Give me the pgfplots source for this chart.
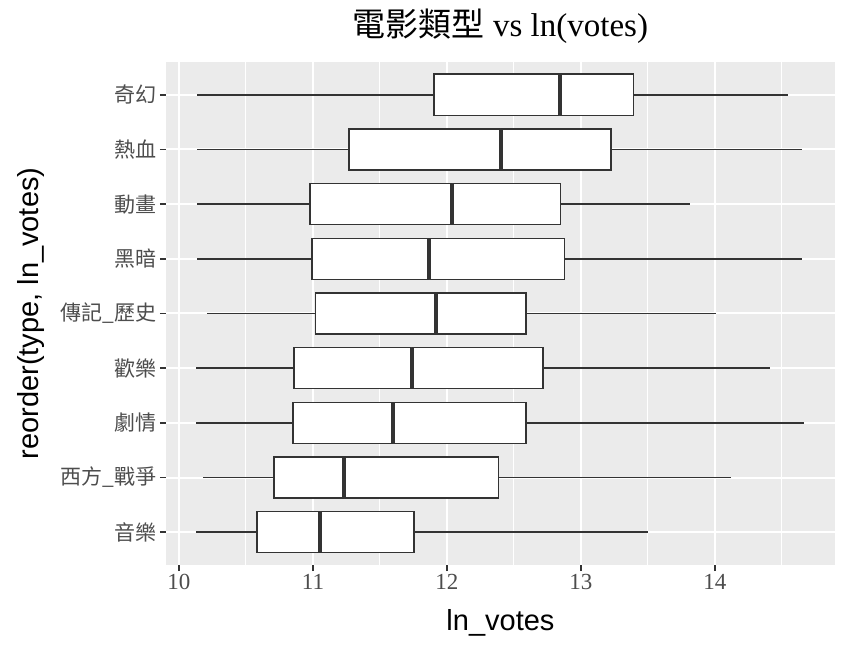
\documentclass[border=0pt]{standalone}
\usepackage{pgfplots}
\pgfplotsset{compat=1.18}
\usepgfplotslibrary{statistics}
\usepackage{fontspec}
\setmainfont{Liberation Serif}
\setsansfont{Liberation Sans}
\newfontfamily\cjk{Noto Sans CJK TC}
\definecolor{panelbg}{HTML}{EBEBEB}
\definecolor{boxline}{HTML}{333333}
\definecolor{ticktext}{HTML}{4D4D4D}

\begin{document}
\begin{tikzpicture}
\path[use as bounding box] (0,0) rectangle (850pt,650pt);
\begin{axis}[
    at={(166pt,85pt)}, anchor=south west,
    scale only axis,
    width=669pt, height=503pt,
    xmin=9.903, xmax=14.896,
    ymin=0.4, ymax=9.6,
    axis background/.style={fill=panelbg},
    axis line style={draw=none},
    xtick={10,11,12,13,14},
    minor xtick={10.5,11.5,12.5,13.5,14.5},
    ytick={1,2,3,4,5,6,7,8,9},
    yticklabels={音樂, 西方\_戰爭, 劇情, 歡樂, 傳記\_歷史, 黑暗, 動畫, 熱血, 奇幻},
    grid=both,
    major grid style={white, line width=2pt},
    minor grid style={white, line width=1pt},
    tick pos=left,
    tick align=outside,
    major tick length=6pt,
    minor tick length=0pt,
    major tick style={boxline, line width=1.5pt},
    /pgf/number format/assume math mode=true,
    xticklabel style={font=\fontsize{23}{26}\selectfont, text=ticktext},
    yticklabel style={font=\cjk\fontsize{21}{24}\selectfont, text=ticktext},
    xlabel={ln\_votes},
    xlabel style={font=\sffamily\fontsize{29}{32}\selectfont, at={(axis description cs:0.5,-0.1312)}, anchor=base},
    ylabel={reorder(type, ln\_votes)},
    ylabel style={font=\sffamily\fontsize{29}{32}\selectfont, at={(axis description cs:-0.1913,0.5)}, anchor=base},
    title={{\cjk 電影類型} vs ln(votes)},
    title style={font=\fontsize{33}{36}\selectfont, at={(axis description cs:0.5,1.0378)}, anchor=base},
    boxplot/draw direction=x,
    boxplot/box extend=0.75,
    boxplot/whisker extend=0,
    boxplot/every median/.style={line width=4pt},
    gbox/.style={solid, draw=boxline, fill=white, line width=1.6pt, mark=none},
]
% 奇幻
\addplot[gbox, boxplot prepared={draw position=9, lower whisker=10.136, lower quartile=11.904, median=12.84, upper quartile=13.391, upper whisker=14.544}] coordinates {};
% 熱血
\addplot[gbox, boxplot prepared={draw position=8, lower whisker=10.136, lower quartile=11.27, median=12.40, upper quartile=13.226, upper whisker=14.648}] coordinates {};
% 動畫
\addplot[gbox, boxplot prepared={draw position=7, lower whisker=10.136, lower quartile=10.978, median=12.04, upper quartile=12.847, upper whisker=13.815}] coordinates {};
% 黑暗
\addplot[gbox, boxplot prepared={draw position=6, lower whisker=10.136, lower quartile=10.991, median=11.869, upper quartile=12.876, upper whisker=14.648}] coordinates {};
% 傳記_歷史
\addplot[gbox, boxplot prepared={draw position=5, lower whisker=10.207, lower quartile=11.02, median=11.92, upper quartile=12.591, upper whisker=14.006}] coordinates {};
% 歡樂
\addplot[gbox, boxplot prepared={draw position=4, lower whisker=10.13, lower quartile=10.858, median=11.736, upper quartile=12.717, upper whisker=14.411}] coordinates {};
% 劇情
\addplot[gbox, boxplot prepared={draw position=3, lower whisker=10.13, lower quartile=10.849, median=11.60, upper quartile=12.591, upper whisker=14.664}] coordinates {};
% 西方_戰爭
\addplot[gbox, boxplot prepared={draw position=2, lower whisker=10.181, lower quartile=10.709, median=11.234, upper quartile=12.384, upper whisker=14.12}] coordinates {};
% 音樂
\addplot[gbox, boxplot prepared={draw position=1, lower whisker=10.13, lower quartile=10.58, median=11.056, upper quartile=11.755, upper whisker=13.50}] coordinates {};
\end{axis}
\end{tikzpicture}
\end{document}
